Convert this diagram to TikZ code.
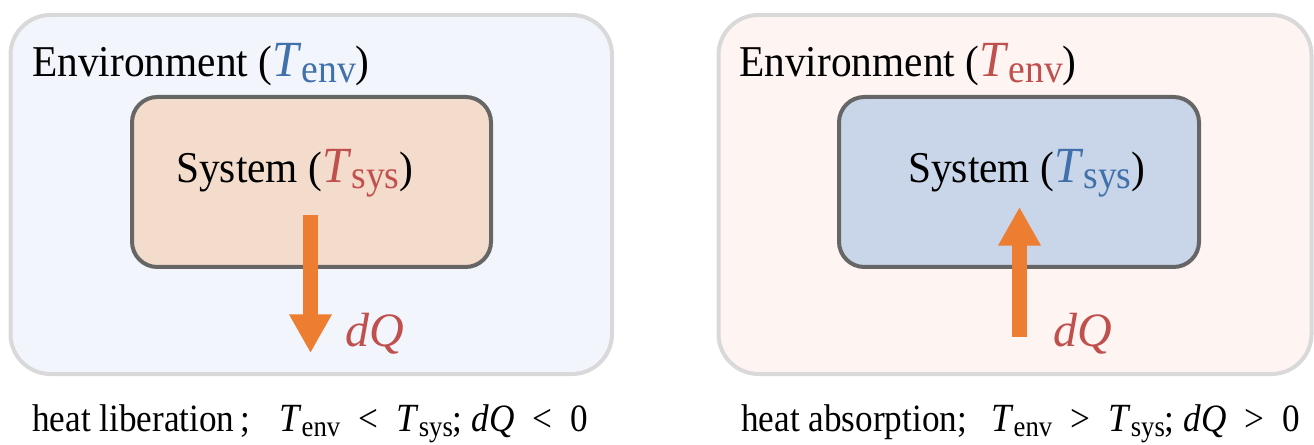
\documentclass[tikz,border=0pt]{standalone}
\usepackage{fontspec}
\setmainfont{Liberation Serif}
\usetikzlibrary{arrows.meta}
\definecolor{envcool}{RGB}{242,245,251}
\definecolor{envwarm}{RGB}{254,245,242}
\definecolor{syswarm}{RGB}{244,220,204}
\definecolor{syscool}{RGB}{201,213,232}
\definecolor{rimlight}{RGB}{217,217,217}
\definecolor{rimdark}{RGB}{102,102,102}
\definecolor{heatorange}{RGB}{237,125,49}
\definecolor{tblue}{RGB}{65,113,170}
\definecolor{tred}{RGB}{192,80,77}
% narrow set of the text
\newcommand{\narrow}[2][0.94]{\scalebox{#1}[1]{#2}}
% temperature in the box labels
\newcommand{\boxT}[2]{\textcolor{#1}{{\fontsize{38}{40}\selectfont\textit{T}}\raisebox{-4pt}{\fontsize{30}{32}\selectfont #2}}}
% temperature in the captions
\newcommand{\capT}[1]{{\fontsize{30}{32}\selectfont\textit{T}}\raisebox{-4pt}{\fontsize{22}{24}\selectfont #1}}
\newcommand{\rel}[1]{\hspace{15pt}#1\hspace{15pt}}

\begin{document}
\begin{tikzpicture}[x=0.75pt,y=-0.75pt,
    envbox/.style={line width=3pt, draw=rimlight, rounded corners=30pt},
    sysbox/.style={line width=3pt, draw=rimdark, rounded corners=19pt},
    boxtext/.style={anchor=base west, inner sep=0pt, font=\fontsize{33}{40}\selectfont},
    dqtext/.style={anchor=base west, inner sep=0pt, text=tred, font=\fontsize{36}{40}\selectfont\itshape},
    captext/.style={anchor=base west, inner sep=0pt, font=\fontsize{29}{34}\selectfont},
    heat/.style={line width=11pt, draw=heatorange, -{Triangle[width=30pt,length=29pt]}}]
    \useasboundingbox (0,0) rectangle (1314,445);

    % left panel: heat leaves the system
    \draw[envbox, fill=envcool] (10.5,15) rectangle (612,374);
    \draw[sysbox, fill=syswarm] (132,97) rectangle (491,267);
    \node[boxtext] (envL) at (32,77) {\narrow{Environment (\boxT{tblue}{env})}};
    \node[boxtext] (sysL) at (176,183) {\narrow{System (\boxT{tred}{sys})}};
    \coordinate (fromL) at (310.5,215);
    \coordinate (tipL) at (310.5,353);
    \draw[heat] (fromL) -- (tipL);
    \node[dqtext] (dqL) at (345,347) {dQ};
    \node[captext] (capL) at (32,431)
      {\narrow[0.91]{heat liberation\,;\hspace{24pt}\capT{env}\rel{<}\capT{sys}; \textit{dQ}\rel{<}0}};

    % right panel: heat enters the system
    \draw[envbox, fill=envwarm] (718.5,15) rectangle (1311.5,374);
    \draw[sysbox, fill=syscool] (839,97) rectangle (1199,267);
    \node[boxtext] (envR) at (739,77) {\narrow{Environment (\boxT{tred}{env})}};
    \node[boxtext] (sysR) at (908,183) {\narrow{System (\boxT{tblue}{sys})}};
    \coordinate (fromR) at (1019.5,337);
    \coordinate (tipR) at (1019.5,207);
    \draw[heat] (fromR) -- (tipR);
    \node[dqtext] (dqR) at (1053,347) {dQ};
    \node[captext] (capR) at (741,431)
      {\narrow[0.91]{heat absorption;\hspace{20pt}\capT{env}\rel{>}\capT{sys}; \textit{dQ}\rel{>}0}};
\end{tikzpicture}
\end{document}
